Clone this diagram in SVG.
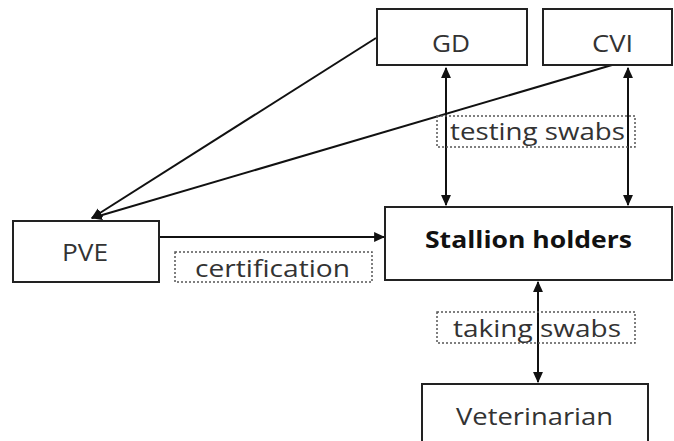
<svg xmlns="http://www.w3.org/2000/svg" width="674" height="441" viewBox="0 0 674 441">
<style>
.box{fill:#fff;stroke:#222;stroke-width:2}
.lbl{fill:none;stroke:#555;stroke-width:1.5;stroke-dasharray:2 2}
.t{font-family:"Open Sans","Noto Sans",sans-serif;font-size:24px;fill:#333;text-anchor:middle}
.b{font-weight:bold;fill:#111;font-size:23px}
.c{stroke:#111;stroke-width:2;fill:none}
</style>
<defs>
<marker id="ah" viewBox="0 0 10 10" refX="9" refY="5" markerWidth="11" markerHeight="11" markerUnits="userSpaceOnUse" orient="auto-start-reverse">
<path d="M0,0.5 L10,5 L0,9.5 z" fill="#111"/>
</marker>
</defs>
<rect width="674" height="441" fill="#fff"/>
<g id="connectors">
<line class="c" x1="376" y1="38" x2="92" y2="218" marker-end="url(#ah)"/>
<line class="c" x1="612" y1="65" x2="92" y2="218" marker-end="url(#ah)"/>
<line class="c" x1="159" y1="237" x2="384" y2="237" marker-end="url(#ah)"/>
<line class="c" x1="446" y1="68" x2="446" y2="205" marker-start="url(#ah)" marker-end="url(#ah)"/>
<line class="c" x1="628" y1="68" x2="628" y2="205" marker-start="url(#ah)" marker-end="url(#ah)"/>
<line class="c" x1="538" y1="282" x2="538" y2="382" marker-start="url(#ah)" marker-end="url(#ah)"/>
</g>
<g id="label-testing">
<rect class="lbl" x="437" y="116" width="198" height="31"/>
<text class="t" x="537.5" y="140" textLength="175" lengthAdjust="spacingAndGlyphs">testing swabs</text>
</g>
<g id="label-certification">
<rect class="lbl" x="175" y="252" width="197" height="30"/>
<text class="t" x="272.5" y="277" textLength="155" lengthAdjust="spacingAndGlyphs">certification</text>
</g>
<g id="label-taking">
<rect class="lbl" x="437" y="312" width="198" height="31"/>
<text class="t" x="537" y="337" textLength="168" lengthAdjust="spacingAndGlyphs">taking swabs</text>
</g>
<g id="node-gd">
<rect class="box" x="377" y="9" width="150" height="56"/>
<text class="t" x="451" y="52" textLength="38" lengthAdjust="spacingAndGlyphs">GD</text>
</g>
<g id="node-cvi">
<rect class="box" x="543" y="9" width="129" height="56"/>
<text class="t" x="612.5" y="52" textLength="41" lengthAdjust="spacingAndGlyphs">CVI</text>
</g>
<g id="node-pve">
<rect class="box" x="13" y="221" width="146" height="61"/>
<text class="t" x="85" y="261" textLength="46" lengthAdjust="spacingAndGlyphs">PVE</text>
</g>
<g id="node-stallion">
<rect class="box" x="385" y="207" width="287" height="73"/>
<text class="t b" x="528.5" y="248" textLength="207" lengthAdjust="spacingAndGlyphs">Stallion holders</text>
</g>
<g id="node-vet">
<rect class="box" x="422" y="384" width="226" height="70"/>
<text class="t" x="534.5" y="425" textLength="157" lengthAdjust="spacingAndGlyphs">Veterinarian</text>
</g>
</svg>
